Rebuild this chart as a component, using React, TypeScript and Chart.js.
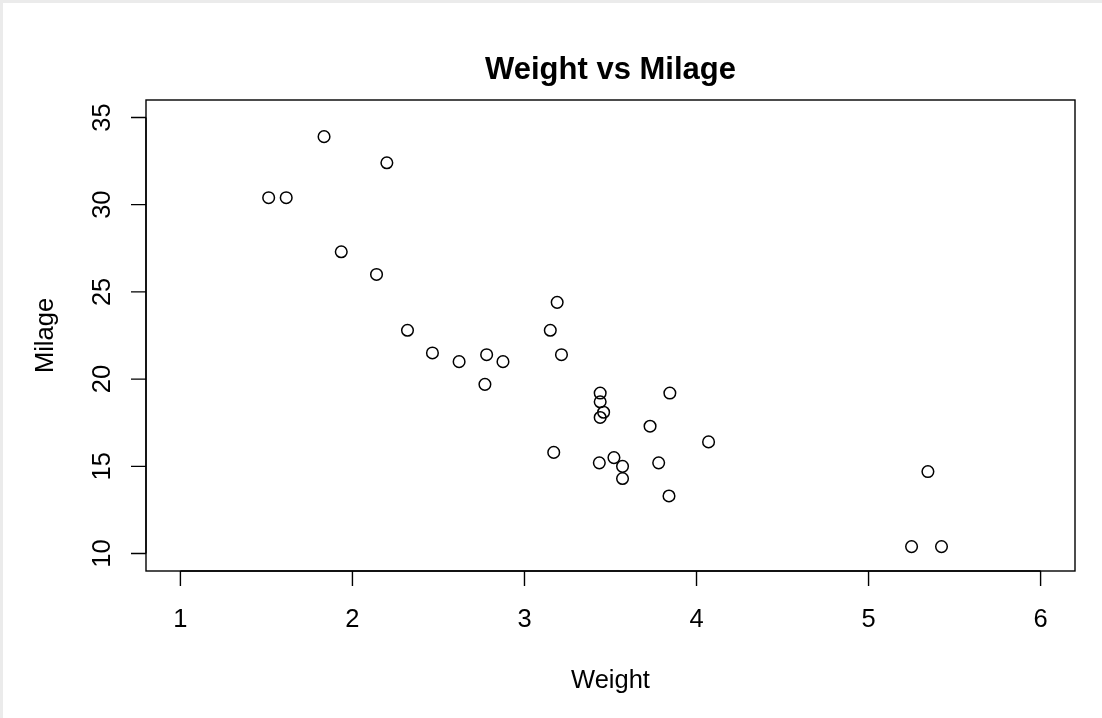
import React, { useEffect, useRef } from "react";
import { Chart, registerables } from "chart.js";

Chart.register(...registerables);

const carNames = [
  "Mazda RX4", "Mazda RX4 Wag", "Datsun 710", "Hornet 4 Drive", "Hornet Sportabout",
  "Valiant", "Duster 360", "Merc 240D", "Merc 230", "Merc 280", "Merc 280C",
  "Merc 450SE", "Merc 450SL", "Merc 450SLC", "Cadillac Fleetwood", "Lincoln Continental",
  "Chrysler Imperial", "Fiat 128", "Honda Civic", "Toyota Corolla", "Toyota Corona",
  "Dodge Challenger", "AMC Javelin", "Camaro Z28", "Pontiac Firebird", "Fiat X1-9",
  "Porsche 914-2", "Lotus Europa", "Ford Pantera L", "Ferrari Dino", "Maserati Bora", "Volvo 142E",
];
const weight = [
  2.62, 2.875, 2.32, 3.215, 3.44, 3.46, 3.57, 3.19, 3.15, 3.44, 3.44, 4.07, 3.73, 3.78,
  5.25, 5.424, 5.345, 2.2, 1.615, 1.835, 2.465, 3.52, 3.435, 3.84, 3.845, 1.935, 2.14,
  1.513, 3.17, 2.77, 3.57, 2.78,
];
const milage = [
  21.0, 21.0, 22.8, 21.4, 18.7, 18.1, 14.3, 24.4, 22.8, 19.2, 17.8, 16.4, 17.3, 15.2,
  10.4, 10.4, 14.7, 32.4, 30.4, 33.9, 21.5, 15.5, 15.2, 13.3, 19.2, 27.3, 26.0, 30.4,
  15.8, 19.7, 15.0, 21.4,
];
const xTicks = [1, 2, 3, 4, 5, 6];
const yTicks = [10, 15, 20, 25, 30, 35];
const titleText = "Weight vs Milage";
const xTitle = "Weight";
const yTitle = "Milage";

const FONT = "'Liberation Sans', Arial, Helvetica, sans-serif";

const rAxesPlugin = {
  id: "rAxes",
  beforeDraw(chart: any) {
    const ctx = chart.ctx;
    ctx.save();
    ctx.fillStyle = "#ffffff";
    ctx.fillRect(0, 0, chart.width, chart.height);
    ctx.fillStyle = "#ebebeb";
    ctx.fillRect(0, 0, chart.width, 3);
    ctx.fillRect(0, 0, 3, chart.height);
    ctx.restore();
  },
  afterDraw(chart: any) {
    const ctx = chart.ctx;
    const a = chart.chartArea;
    const xs = chart.scales.x;
    const ys = chart.scales.y;
    ctx.save();
    ctx.strokeStyle = "#000";
    ctx.lineWidth = 1.4;
    ctx.strokeRect(a.left, a.top, a.right - a.left, a.bottom - a.top);

    const tick = 15;
    ctx.beginPath();
    const x0 = xs.getPixelForValue(xTicks[0]);
    const x1 = xs.getPixelForValue(xTicks[xTicks.length - 1]);
    ctx.moveTo(x0, a.bottom);
    ctx.lineTo(x1, a.bottom);
    xTicks.forEach((v) => {
      const px = xs.getPixelForValue(v);
      ctx.moveTo(px, a.bottom);
      ctx.lineTo(px, a.bottom + tick);
    });
    const y0 = ys.getPixelForValue(yTicks[0]);
    const y1 = ys.getPixelForValue(yTicks[yTicks.length - 1]);
    ctx.moveTo(a.left, y0);
    ctx.lineTo(a.left, y1);
    yTicks.forEach((v) => {
      const py = ys.getPixelForValue(v);
      ctx.moveTo(a.left, py);
      ctx.lineTo(a.left - tick, py);
    });
    ctx.stroke();

    ctx.fillStyle = "#000";
    ctx.font = `25.5px ${FONT}`;
    ctx.textAlign = "center";
    ctx.textBaseline = "alphabetic";
    xTicks.forEach((v) => {
      ctx.fillText(String(v), xs.getPixelForValue(v), 627);
    });
    yTicks.forEach((v) => {
      ctx.save();
      ctx.translate(110, ys.getPixelForValue(v));
      ctx.rotate(-Math.PI / 2);
      ctx.fillText(String(v), 0, 0);
      ctx.restore();
    });
    ctx.fillText(xTitle, (a.left + a.right) / 2, 688);
    ctx.save();
    ctx.translate(53, (a.top + a.bottom) / 2);
    ctx.rotate(-Math.PI / 2);
    ctx.fillText(yTitle, 0, 0);
    ctx.restore();
    ctx.font = `bold 31px ${FONT}`;
    ctx.fillText(titleText, (a.left + a.right) / 2, 79);
    ctx.restore();
  },
};

export default function App() {
  const ref = useRef<HTMLCanvasElement | null>(null);
  useEffect(() => {
    if (!ref.current) return;
    const chart = new Chart(ref.current, {
      type: "scatter",
      data: {
        labels: carNames,
        datasets: [
          {
            label: "mtcars",
            data: weight.map((w, i) => ({ x: w, y: milage[i] })),
            pointRadius: 5.8,
            pointHoverRadius: 5.8,
            pointBorderWidth: 1.5,
            borderColor: "#000",
            backgroundColor: "rgba(0,0,0,0)",
            pointBackgroundColor: "rgba(0,0,0,0)",
            pointBorderColor: "#000",
          },
        ],
      },
      options: {
        animation: false,
        responsive: false,
        maintainAspectRatio: false,
        devicePixelRatio: 1,
        layout: { padding: { left: 146, top: 100, right: 27, bottom: 147 } },
        plugins: {
          legend: { display: false },
          title: { display: false },
          tooltip: { enabled: false },
        },
        scales: {
          x: { type: "linear", min: 0.8, max: 6.2, display: false },
          y: { type: "linear", min: 9, max: 36, display: false },
        },
      },
      plugins: [rAxesPlugin],
    });
    return () => chart.destroy();
  }, []);
  return (
    <div style={{ position: "absolute", left: 0, top: 0, width: 1102, height: 718 }}>
      <canvas ref={ref} width={1102} height={718} style={{ width: 1102, height: 718, display: "block" }} />
    </div>
  );
}
